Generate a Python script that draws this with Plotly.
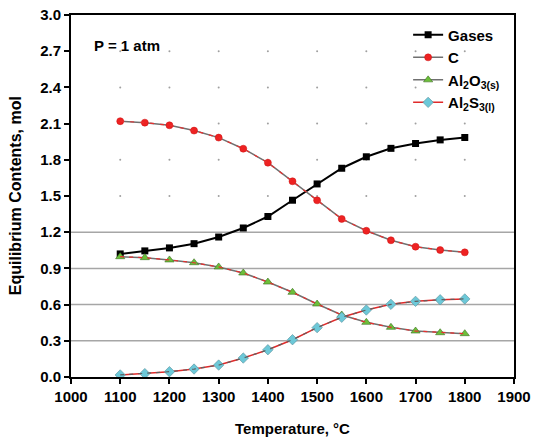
import plotly.graph_objects as go

# Equilibrium composition vs temperature at P = 1 atm
temperature = [1100, 1150, 1200, 1250, 1300, 1350, 1400, 1450, 1500, 1550, 1600, 1650, 1700, 1750, 1800]
gases = [1.02, 1.045, 1.07, 1.105, 1.16, 1.235, 1.33, 1.465, 1.60, 1.73, 1.825, 1.895, 1.935, 1.965, 1.985]
carbon = [2.12, 2.108, 2.086, 2.042, 1.984, 1.892, 1.776, 1.622, 1.464, 1.31, 1.212, 1.133, 1.08, 1.052, 1.033]
al2o3 = [0.997, 0.989, 0.97, 0.947, 0.912, 0.862, 0.787, 0.702, 0.605, 0.514, 0.453, 0.412, 0.381, 0.367, 0.359]
al2s3 = [0.017, 0.028, 0.044, 0.066, 0.099, 0.157, 0.226, 0.309, 0.409, 0.495, 0.555, 0.602, 0.627, 0.64, 0.647]

x_ticks = [1000, 1100, 1200, 1300, 1400, 1500, 1600, 1700, 1800, 1900]
y_ticks = [0.0, 0.3, 0.6, 0.9, 1.2, 1.5, 1.8, 2.1, 2.4, 2.7, 3.0]
solid_grid = [0.3, 0.6, 0.9, 1.2]
dotted_grid = [1.5, 1.8, 2.1, 2.4, 2.7]

FONT = "Liberation Sans, Arial, sans-serif"

fig = go.Figure()

# dotted grid: small points at each intersection in the upper half
gx, gy = [], []
for yv in dotted_grid:
    for xv in x_ticks[1:-1]:
        gx.append(xv)
        gy.append(yv)
fig.add_trace(go.Scatter(x=gx, y=gy, mode="markers", showlegend=False, hoverinfo="skip",
                         marker=dict(size=2, color="#a0a0a0")))

# solid grid lines in the lower half
for yv in solid_grid:
    fig.add_shape(type="line", xref="paper", yref="y", x0=0, x1=1, y0=yv, y1=yv,
                  line=dict(color="#a6a6a6", width=1.5), layer="below")

fig.add_trace(go.Scatter(
    x=temperature, y=gases, name="Gases", mode="lines+markers",
    line=dict(color="black", width=2),
    marker=dict(symbol="square", size=7, color="black")))

fig.add_trace(go.Scatter(
    x=temperature, y=carbon, name="C", mode="lines+markers",
    line=dict(color="#707070", width=1.5),
    marker=dict(symbol="circle", size=7, color="#ee2222", line=dict(color="#cc1111", width=0.5))))
fig.add_trace(go.Scatter(
    x=temperature, y=carbon, mode="lines", showlegend=False, hoverinfo="skip",
    line=dict(color="#e83030", width=1.2, dash="4px,6px")))

fig.add_trace(go.Scatter(
    x=temperature, y=al2o3, name="Al<sub>2</sub>O<sub>3(s)</sub>", mode="lines+markers",
    line=dict(color="#707070", width=1.5),
    marker=dict(symbol="triangle-up", size=8, color="#6cbf3a", line=dict(color="#3d6f22", width=0.6))))
fig.add_trace(go.Scatter(
    x=temperature, y=al2o3, mode="lines", showlegend=False, hoverinfo="skip",
    line=dict(color="#e83030", width=1.2, dash="4px,5px")))

fig.add_trace(go.Scatter(
    x=temperature, y=al2s3, name="Al<sub>2</sub>S<sub>3(l)</sub>", mode="lines+markers",
    line=dict(color="#e02a2a", width=1.5),
    marker=dict(symbol="diamond", size=8, color="#6cc8d8", line=dict(color="#5a8f99", width=0.6))))
fig.add_trace(go.Scatter(
    x=temperature, y=al2s3, mode="lines", showlegend=False, hoverinfo="skip",
    line=dict(color="#606060", width=1.2, dash="4px,5px")))

fig.add_annotation(x=0.048, y=0.917, xref="paper", yref="paper", xanchor="left", yanchor="middle",
                   text="<b>P = 1 atm</b>", showarrow=False,
                   font=dict(family=FONT, size=15, color="black"))

# axis titles
fig.add_annotation(x=0.5, y=-0.141, xref="paper", yref="paper", xanchor="center", yanchor="middle",
                   text="<b>Temperature, °C</b>", showarrow=False,
                   font=dict(family=FONT, size=15, color="black"))
fig.add_annotation(x=-0.126, y=0.5, xref="paper", yref="paper", xanchor="center", yanchor="middle",
                   text="<b>Equilibrium Contents, mol</b>", showarrow=False, textangle=-90,
                   font=dict(family=FONT, size=16, color="black"))

fig.update_layout(
    width=534, height=443,
    margin=dict(l=71, r=20, t=15, b=66, autoexpand=False),
    paper_bgcolor="white", plot_bgcolor="white",
    font=dict(family=FONT, size=13, color="black"),
    showlegend=True,
    legend=dict(x=0.761, y=0.99, xanchor="left", yanchor="top",
                bgcolor="rgba(255,255,255,0)", borderwidth=0,
                font=dict(family=FONT, size=15, color="black", weight="bold"),
                tracegroupgap=0, itemwidth=30),
)

fig.update_xaxes(
    range=[1000, 1900], tickvals=x_ticks, ticktext=[str(v) for v in x_ticks],
    showgrid=False, zeroline=False, automargin=False,
    showline=True, linecolor="black", linewidth=2, mirror=True,
    ticks="outside", ticklen=5, tickwidth=1.5, tickcolor="black",
    tickfont=dict(family=FONT, size=15, color="black", weight="bold"),
)
fig.update_yaxes(
    range=[0, 3.0], tickvals=y_ticks, ticktext=[f"{v:.1f}" for v in y_ticks],
    showgrid=False, zeroline=False, automargin=False,
    showline=True, linecolor="black", linewidth=2, mirror=True,
    ticks="outside", ticklen=5, tickwidth=1.5, tickcolor="black",
    tickfont=dict(family=FONT, size=15, color="black", weight="bold"),
)

fig.write_html("out.html")
